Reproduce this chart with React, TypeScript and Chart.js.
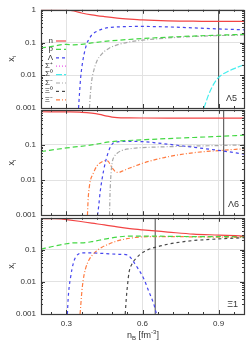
import React, { useEffect, useRef } from "react";
import { Chart, registerables } from "chart.js";

Chart.register(...registerables);

const FONT = "'Liberation Sans', Arial, sans-serif";

// Species legend
const SPECIES = ["n", "p", "Λ", "Σ⁺", "Σ⁰", "Σ⁻", "Ξ⁰", "Ξ⁻"];
const COLORS = ["#f24444", "#44d844", "#4646ee", "#ee55ee", "#44eeee", "#a8a8a8", "#484848", "#ff7b40"];
const DASHES = [[], [5, 3], [3, 3], [1, 2], [6, 2], [4, 2, 1, 2], [3, 3], [4, 2, 1, 2]];

const X_TICKS = [0.3, 0.6, 0.9];
const Y_TICKS_TOP = [1, 0.1, 0.01, 0.001];
const Y_TICKS_LOWER = [0.1, 0.01, 0.001];

// ---------- Panel Λ5 ----------
const L5_n_x = [0.2, 0.25, 0.3, 0.33, 0.36, 0.4, 0.45, 0.5, 0.55, 0.6, 0.7, 0.8, 0.9, 1.0];
const L5_n_y = [0.98, 0.98, 0.97, 0.92, 0.8, 0.7, 0.62, 0.56, 0.52, 0.49, 0.46, 0.45, 0.44, 0.44];
const L5_p_x = [0.2, 0.25, 0.3, 0.33, 0.36, 0.4, 0.45, 0.5, 0.6, 0.7, 0.8, 0.9, 1.0];
const L5_p_y = [0.068, 0.078, 0.088, 0.085, 0.088, 0.097, 0.108, 0.117, 0.132, 0.146, 0.158, 0.168, 0.178];
const L5_L_x = [0.348, 0.352, 0.356, 0.362, 0.37, 0.38, 0.39, 0.4, 0.42, 0.45, 0.5, 0.6, 0.7, 0.8, 0.9, 1.0];
const L5_L_y = [0.001, 0.003, 0.008, 0.02, 0.045, 0.09, 0.13, 0.17, 0.22, 0.27, 0.3, 0.31, 0.3, 0.28, 0.26, 0.245];
const L5_S0_x = [0.842, 0.85, 0.86, 0.875, 0.89, 0.91, 0.94, 0.97, 1.0];
const L5_S0_y = [0.001, 0.0015, 0.0025, 0.0045, 0.007, 0.01, 0.0135, 0.017, 0.021];
const L5_Sm_x = [0.391, 0.395, 0.4, 0.41, 0.42, 0.44, 0.47, 0.5, 0.55, 0.6, 0.7, 0.8, 0.9, 1.0];
const L5_Sm_y = [0.001, 0.003, 0.007, 0.016, 0.027, 0.045, 0.068, 0.085, 0.105, 0.118, 0.138, 0.153, 0.163, 0.17];
const L5_VLINE = 0.9;

// ---------- Panel Λ6 ----------
const L6_n_x = [0.2, 0.3, 0.36, 0.4, 0.43, 0.46, 0.48, 0.5, 0.55, 0.6, 0.7, 0.8, 0.9, 1.0];
const L6_n_y = [0.88, 0.87, 0.85, 0.8, 0.74, 0.66, 0.62, 0.6, 0.59, 0.585, 0.58, 0.58, 0.58, 0.58];
const L6_p_x = [0.2, 0.3, 0.4, 0.47, 0.5, 0.6, 0.7, 0.8, 0.9, 1.0];
const L6_p_y = [0.065, 0.082, 0.1, 0.122, 0.128, 0.14, 0.152, 0.163, 0.175, 0.19];
const L6_L_x = [0.423, 0.428, 0.433, 0.44, 0.447, 0.455, 0.466, 0.476, 0.486, 0.5, 0.55, 0.6, 0.7, 0.8, 0.9, 1.0];
const L6_L_y = [0.001, 0.002, 0.0045, 0.01, 0.019, 0.035, 0.065, 0.095, 0.115, 0.122, 0.126, 0.124, 0.105, 0.086, 0.07, 0.055];
const L6_Sm_x = [0.47, 0.472, 0.475, 0.48, 0.49, 0.5, 0.52, 0.55, 0.6, 0.7, 0.8, 0.9, 1.0];
const L6_Sm_y = [0.001, 0.004, 0.012, 0.03, 0.048, 0.058, 0.07, 0.078, 0.084, 0.089, 0.093, 0.096, 0.1];
const L6_Xm_x = [0.383, 0.386, 0.39, 0.395, 0.405, 0.42, 0.44, 0.455, 0.465, 0.475, 0.485, 0.495, 0.505, 0.52, 0.55, 0.6, 0.65, 0.7, 0.8, 0.9, 1.0];
const L6_Xm_y = [0.001, 0.003, 0.006, 0.01, 0.015, 0.025, 0.033, 0.036, 0.034, 0.026, 0.02, 0.017, 0.0165, 0.018, 0.022, 0.03, 0.038, 0.046, 0.06, 0.069, 0.078];
const L6_VLINE = 0.92;

// ---------- Panel Ξ1 ----------
const X1_n_x = [0.2, 0.25, 0.28, 0.3, 0.35, 0.4, 0.45, 0.5, 0.55, 0.6, 0.7, 0.8, 0.9, 1.0];
const X1_n_y = [0.95, 0.94, 0.92, 0.88, 0.78, 0.68, 0.6, 0.52, 0.46, 0.42, 0.36, 0.31, 0.29, 0.27];
const X1_p_x = [0.2, 0.25, 0.3, 0.33, 0.36, 0.4, 0.45, 0.5, 0.55, 0.6, 0.7, 0.8, 0.9, 1.0];
const X1_p_y = [0.105, 0.13, 0.155, 0.165, 0.165, 0.18, 0.215, 0.25, 0.27, 0.27, 0.265, 0.26, 0.26, 0.26];
const X1_L_x = [0.304, 0.307, 0.311, 0.316, 0.322, 0.33, 0.34, 0.36, 0.4, 0.45, 0.5, 0.54, 0.555, 0.565, 0.58, 0.605, 0.625, 0.644, 0.655];
const X1_L_y = [0.001, 0.003, 0.007, 0.013, 0.025, 0.045, 0.065, 0.08, 0.08, 0.077, 0.073, 0.07, 0.055, 0.042, 0.028, 0.0126, 0.005, 0.0021, 0.001];
const X1_X0_x = [0.532, 0.536, 0.541, 0.547, 0.56, 0.575, 0.59, 0.62, 0.65, 0.7, 0.75, 0.8, 0.9, 1.0];
const X1_X0_y = [0.001, 0.003, 0.008, 0.02, 0.038, 0.055, 0.072, 0.1, 0.12, 0.15, 0.175, 0.195, 0.22, 0.24];
const X1_Xm_x = [0.354, 0.357, 0.361, 0.366, 0.375, 0.39, 0.41, 0.44, 0.47, 0.5, 0.55, 0.6, 0.7, 0.8, 0.9, 1.0];
const X1_Xm_y = [0.001, 0.002, 0.005, 0.011, 0.025, 0.05, 0.08, 0.12, 0.155, 0.19, 0.23, 0.255, 0.26, 0.255, 0.25, 0.245];
const X1_VLINE = 0.65;

type Series = [number[], number[]] | null;

const PANELS = [
  {
    name: "Λ5",
    series: [[L5_n_x, L5_n_y], [L5_p_x, L5_p_y], [L5_L_x, L5_L_y], null, [L5_S0_x, L5_S0_y], [L5_Sm_x, L5_Sm_y], null, null] as Series[],
    vline: L5_VLINE, legend: true, showX: false, yTicks: Y_TICKS_TOP,
    top: 0, height: 120, padTop: 9, padBottom: 12, xHeight: 0, labelRight: 7, labelUp: 9,
  },
  {
    name: "Λ6",
    series: [[L6_n_x, L6_n_y], [L6_p_x, L6_p_y], [L6_L_x, L6_L_y], null, null, [L6_Sm_x, L6_Sm_y], null, [L6_Xm_x, L6_Xm_y]] as Series[],
    vline: L6_VLINE, legend: false, showX: false, yTicks: Y_TICKS_LOWER,
    top: 100, height: 125, padTop: 8, padBottom: 8, xHeight: 0, labelRight: 5, labelUp: 11,
  },
  {
    name: "Ξ1",
    series: [[X1_n_x, X1_n_y], [X1_p_x, X1_p_y], [X1_L_x, X1_L_y], null, null, null, [X1_X0_x, X1_X0_y], [X1_Xm_x, X1_Xm_y]] as Series[],
    vline: X1_VLINE, legend: false, showX: true, yTicks: Y_TICKS_LOWER,
    top: 208, height: 141, padTop: 9, padBottom: 0, xHeight: 35, labelRight: 6, labelUp: 9,
  },
];

const decoPlugin = {
  id: "deco",
  afterDatasetsDraw(chart: any, _args: any, opts: any) {
    const ctx = chart.ctx;
    const { left, right, top, bottom } = chart.chartArea;
    const xs = chart.scales.x;
    const ys = chart.scales.y;
    ctx.save();
    ctx.strokeStyle = "#3a3a3a";
    ctx.lineWidth = 1;
    // inward ticks on x
    ctx.beginPath();
    for (let k = 4; k <= 16; k++) {
      const v = k * 0.06;
      if (v < 0.2 || v > 1.0) continue;
      const major = X_TICKS.some((t) => Math.abs(t - v) < 1e-6);
      const len = major ? 4 : 2;
      const px = Math.round(xs.getPixelForValue(v)) + 0.5;
      ctx.moveTo(px, bottom); ctx.lineTo(px, bottom - len);
      ctx.moveTo(px, top); ctx.lineTo(px, top + len);
    }
    // inward ticks on y
    for (let d = -3; d < 0; d++) {
      for (let m = 1; m <= 9; m++) {
        const v = m * Math.pow(10, d);
        const len = m === 1 ? 4 : 2;
        const py = Math.round(ys.getPixelForValue(v)) + 0.5;
        ctx.moveTo(left, py); ctx.lineTo(left + len, py);
        ctx.moveTo(right, py); ctx.lineTo(right - len, py);
      }
    }
    ctx.stroke();
    // frame
    ctx.lineWidth = 1.2;
    ctx.strokeRect(Math.round(left) + 0.5, Math.round(top) + 0.5, Math.round(right - left), Math.round(bottom - top));

    // panel label
    ctx.fillStyle = "#333";
    ctx.font = `9px ${FONT}`;
    ctx.textAlign = "right";
    ctx.textBaseline = "middle";
    ctx.fillText(opts.name, right - opts.labelRight, bottom - opts.labelUp);

    // legend
    if (opts.legend) {
      ctx.font = `8px ${FONT}`;
      chart.data.datasets.slice(0, SPECIES.length).forEach((ds: any, i: number) => {
        const y = 40.5 + i * 8.4;
        ctx.fillStyle = "#333";
        ctx.textAlign = "right";
        ctx.fillText(ds.label, 53, y);
        ctx.strokeStyle = ds.borderColor;
        ctx.lineWidth = 1.2;
        ctx.setLineDash(ds.borderDash || []);
        ctx.beginPath();
        ctx.moveTo(56, y + 0.5);
        ctx.lineTo(66, y + 0.5);
        ctx.stroke();
        ctx.setLineDash([]);
      });
    }

    // y title x_i
    ctx.fillStyle = "#333";
    ctx.save();
    ctx.translate(11, (top + bottom) / 2);
    ctx.rotate(-Math.PI / 2);
    ctx.font = `9px ${FONT}`;
    const wx = ctx.measureText("x").width;
    ctx.font = `6px ${FONT}`;
    const wi = ctx.measureText("i").width;
    const start = -(wx + wi) / 2;
    ctx.textAlign = "left";
    ctx.textBaseline = "alphabetic";
    ctx.font = `9px ${FONT}`;
    ctx.fillText("x", start, 3);
    ctx.font = `6px ${FONT}`;
    ctx.fillText("i", start + wx, 5);
    ctx.restore();

    // x title
    if (opts.showX) {
      const parts: [string, number, number][] = [["n", 9, 0], ["B", 6, 2], [" [fm", 9, 0], ["-3", 6, -4], ["]", 9, 0]];
      let total = 0;
      parts.forEach(([t, s]) => { ctx.font = `${s}px ${FONT}`; total += ctx.measureText(t).width; });
      let x = 143 - total / 2;
      const base = chart.height - 11;
      ctx.textAlign = "left";
      ctx.textBaseline = "alphabetic";
      parts.forEach(([t, s, dy]) => {
        ctx.font = `${s}px ${FONT}`;
        ctx.fillText(t, x, base + dy);
        x += ctx.measureText(t).width;
      });
    }
    ctx.restore();
  },
};

function Panel({ cfg }: { cfg: any }) {
  const ref = useRef<HTMLCanvasElement>(null);
  useEffect(() => {
    if (!ref.current) return;
    const datasets: any[] = cfg.series.map((s: Series, i: number) => ({
      label: SPECIES[i],
      data: s ? s[0].map((x, j) => ({ x, y: s[1][j] })) : [],
      borderColor: COLORS[i],
      borderDash: DASHES[i],
      borderWidth: 1.2,
      pointRadius: 0,
      fill: false,
      cubicInterpolationMode: "monotone",
    }));
    datasets.push({
      label: "threshold",
      data: [{ x: cfg.vline, y: 0.001 }, { x: cfg.vline, y: 1 }],
      borderColor: "#444",
      borderWidth: 1,
      pointRadius: 0,
      tension: 0,
    });
    const tickFont = { family: FONT, size: 8 };
    const chart = new Chart(ref.current, {
      type: "line",
      data: { datasets },
      options: {
        animation: false,
        responsive: false,
        maintainAspectRatio: false,
        layout: { padding: { top: cfg.padTop, bottom: cfg.padBottom, left: 0, right: 5 } },
        plugins: {
          legend: { display: false },
          tooltip: { enabled: false },
          deco: {
            name: cfg.name, legend: cfg.legend, showX: cfg.showX,
            labelRight: cfg.labelRight, labelUp: cfg.labelUp,
          },
        } as any,
        scales: {
          x: {
            type: "linear",
            min: 0.2,
            max: 1.0,
            afterBuildTicks: (s: any) => { s.ticks = X_TICKS.map((v) => ({ value: v })); },
            afterFit: (s: any) => { s.height = cfg.xHeight; },
            ticks: {
              display: cfg.showX,
              font: tickFont,
              color: "#333",
              padding: 5,
              maxRotation: 0,
              autoSkip: false,
              callback: (v: any) => Number(v).toFixed(1),
            },
            grid: { color: "#e2e2e2", drawTicks: false, lineWidth: 1 },
            border: { display: false },
          },
          y: {
            type: "logarithmic",
            min: 0.001,
            max: 1,
            afterBuildTicks: (s: any) => { s.ticks = cfg.yTicks.map((v: number) => ({ value: v })); },
            afterFit: (s: any) => { s.width = 41; },
            ticks: {
              font: tickFont,
              color: "#333",
              padding: 5,
              autoSkip: false,
              callback: (v: any) => String(v),
            },
            grid: { color: "#e2e2e2", drawTicks: false, lineWidth: 1 },
            border: { display: false },
          },
        },
      } as any,
      plugins: [decoPlugin],
    });
    return () => chart.destroy();
  }, [cfg]);
  return (
    <canvas
      ref={ref}
      width={249}
      height={cfg.height}
      style={{ position: "absolute", left: 0, top: cfg.top, width: 249, height: cfg.height }}
    />
  );
}

export default function App() {
  return (
    <div style={{ position: "fixed", left: 0, top: 0, width: 249, height: 349, background: "#fff" }}>
      {PANELS.map((p) => (
        <Panel key={p.name} cfg={p} />
      ))}
    </div>
  );
}
